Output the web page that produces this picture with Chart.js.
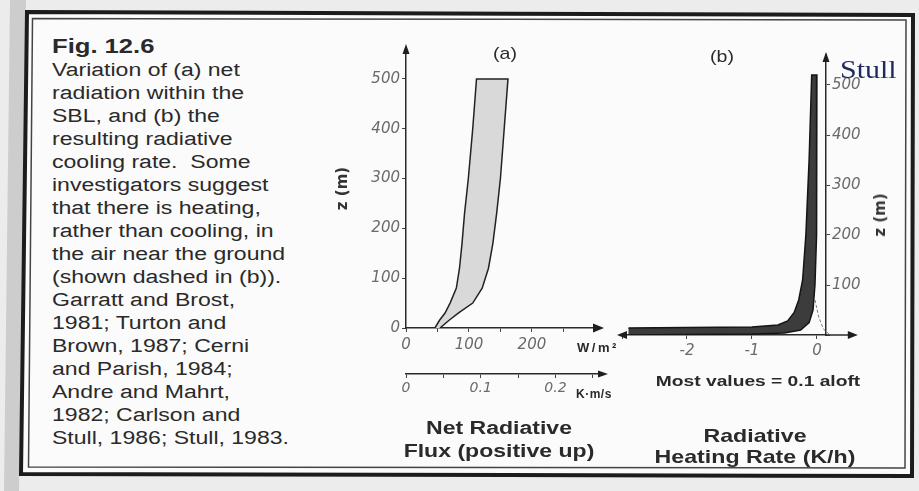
<!DOCTYPE html>
<html>
<head>
<meta charset="utf-8">
<script src="https://cdn.jsdelivr.net/npm/chart.js@4.4.1/dist/chart.umd.min.js"></script>
<style>
  body { margin: 0; width: 919px; height: 491px; background: #ececec; position: relative; overflow: hidden; }
  .t { position: absolute; white-space: nowrap; color: #2a2a2a; font-family: 'Liberation Sans', Arial, sans-serif; }
  canvas { position: absolute; }
</style>
</head>
<body>

<svg width="919" height="491" style="position:absolute;left:0;top:0">
  <polygon points="10,0 26,0 19,491 4,491" fill="#cdcdcd"/>
  <polygon points="27,12 913,15 912,476 21,474" fill="#fbfbfb" stroke="#1c1c1c" stroke-width="4"/>
  <polygon points="32.5,18.5 906,20 905,468 28.5,467" fill="none" stroke="#444" stroke-width="1.5"/>
</svg>

<div class="t" style="left:52px;top:34.5px;font-size:18px;line-height:23px;transform:scaleX(1.28);transform-origin:0 0"><b style="font-size:20px">Fig. 12.6</b><br>Variation of (a) net<br>radiation within the<br>SBL, and (b) the<br>resulting radiative<br>cooling rate.&nbsp; Some<br>investigators suggest<br>that there is heating,<br>rather than cooling, in<br>the air near the ground<br>(shown dashed in (b)).<br>Garratt and Brost,<br>1981; Turton and<br>Brown, 1987; Cerni<br>and Parish, 1984;<br>Andre and Mahrt,<br>1982; Carlson and<br>Stull, 1986; Stull, 1983.</div>

<canvas id="chartA" width="290" height="400" style="left:330px;top:30px"></canvas>
<canvas id="chartB" width="300" height="340" style="left:610px;top:30px"></canvas>

<div class="t" style="left:505px;top:44px;font-size:17px;line-height:19px;transform:translateX(-50%) scaleX(1.15)">(a)</div>
<div class="t" style="left:722px;top:47px;font-size:17px;line-height:19px;transform:translateX(-50%) scaleX(1.15)">(b)</div>
<div class="t" style="left:840px;top:55.6px;font-size:25px;line-height:28px;font-family:'Liberation Serif',serif;color:#1d2a5c;transform:scaleX(1.2);transform-origin:0 0">Stull</div>
<div class="t" style="left:880px;top:215px;font-size:15px;font-weight:bold;font-family:'DejaVu Sans',sans-serif;color:#333;transform:translate(-50%,-50%) rotate(-90deg)">z (m)</div>

<div class="t" style="left:577px;top:340px;font-size:13px;line-height:15px;font-weight:bold;letter-spacing:2.5px">W/m²</div>
<div class="t" style="left:576px;top:387px;font-size:12px;line-height:14px;font-weight:bold;letter-spacing:0.5px">K·m/s</div>
<div class="t" style="left:758px;top:372px;font-size:15px;line-height:17px;font-weight:bold;transform:translateX(-50%) scaleX(1.28)">Most values = 0.1 aloft</div>

<div class="t" style="left:499px;top:417px;font-size:18px;line-height:23px;font-weight:bold;text-align:center;transform:translateX(-50%) scaleX(1.28)">Net Radiative<br>Flux (positive up)</div>
<div class="t" style="left:755px;top:424.7px;font-size:19px;line-height:21.5px;font-weight:bold;text-align:center;transform:translateX(-50%) scaleX(1.22)">Radiative<br>Heating Rate (K/h)</div>

<script>
// (a) net radiative flux band, W/m2 at each height z (m)
var fluxZ     = [0, 15, 30, 50, 80, 120, 170, 230, 300, 400, 500];
var fluxLeft  = [46, 53, 62, 70, 80, 85, 89, 93, 99, 106, 112];
var fluxRight = [54, 68, 83, 106, 121, 131, 138, 144, 150, 156, 162];

// (b) radiative heating rate band (K/h), outer edge bottom->top, inner edge top->bottom
var outerRate = [-2.9, -2.0, -1.0, -0.6, -0.45, -0.35, -0.28, -0.22, -0.17, -0.12, -0.08];
var outerZ    = [14, 15, 16, 20, 28, 45, 70, 110, 200, 350, 520];
var innerRate = [0.0, 0.0, -0.01, -0.03, -0.06, -0.12, -0.25, -0.5, -1.0, -2.0, -2.9];
var innerZ    = [520, 350, 200, 100, 50, 25, 10, 4, 2, 1, 0];

// dashed: possible heating near the ground
var heatRate = [-0.03, 0.03, 0.1, 0.2];
var heatZ    = [70, 35, 12, 0];

// tick labels
var heightTicks = [0, 100, 200, 300, 400, 500];
var fluxTicks = [0, 100, 200];
var kinTicks = [0, 0.1, 0.2];
var rateTicks = [-2, -1, 0];

var tickFont = { family: 'DejaVu Sans', style: 'italic', size: 15 };
var tickColor = '#6a6a6a';
var axisLine = { display: true, color: '#2a2a2a', width: 1.5 };
var tickMarks = { display: true, drawOnChartArea: false, drawTicks: true, tickLength: 4, color: '#444' };

function pts(xs, ys) {
  return xs.map(function(x, i) { return { x: x, y: ys[i] }; });
}

function has(list, v) {
  return list.some(function(t) { return Math.abs(t - v) < 1e-6; });
}

function arrow(ctx, x, y, dir, len, half) {
  ctx.beginPath();
  ctx.moveTo(x, y);
  if (dir === 'up') { ctx.lineTo(x - half, y + len); ctx.lineTo(x + half, y + len); }
  if (dir === 'right') { ctx.lineTo(x - len, y - half); ctx.lineTo(x - len, y + half); }
  if (dir === 'left') { ctx.lineTo(x + len, y - half); ctx.lineTo(x + len, y + half); }
  ctx.closePath();
  ctx.fill();
}

var arrowsA = {
  id: 'arrowsA',
  afterDraw: function(chart) {
    var ctx = chart.ctx, a = chart.chartArea, s = chart.scales;
    var y0 = s.y.getPixelForValue(0), x0 = s.x.getPixelForValue(0);
    ctx.save();
    ctx.fillStyle = '#1e1e1e';
    ctx.strokeStyle = '#2a2a2a';
    ctx.lineWidth = 1.5;
    arrow(ctx, x0, a.top - 5, 'up', 10, 3.5);
    arrow(ctx, a.right + 6, y0, 'right', 11, 4.5);
    ctx.beginPath();
    ctx.moveTo(a.right, s.x2.top);
    ctx.lineTo(a.right + 5, s.x2.top);
    ctx.stroke();
    arrow(ctx, a.right + 10, s.x2.top, 'right', 10, 3.5);
    ctx.restore();
  }
};

var arrowsB = {
  id: 'arrowsB',
  afterDraw: function(chart) {
    var ctx = chart.ctx, a = chart.chartArea, s = chart.scales;
    var y0 = s.y.getPixelForValue(0);
    ctx.save();
    ctx.fillStyle = '#1e1e1e';
    ctx.strokeStyle = '#2a2a2a';
    ctx.lineWidth = 1.5;
    arrow(ctx, a.right, a.top - 3, 'up', 10, 3.5);
    arrow(ctx, a.left - 5, y0, 'left', 10, 4);
    ctx.beginPath();
    ctx.moveTo(a.right, y0);
    ctx.lineTo(s.x.getPixelForValue(0.55), y0);
    ctx.stroke();
    arrow(ctx, s.x.getPixelForValue(0.63), y0, 'right', 10, 4);
    ctx.restore();
  }
};

// panel (a)
new Chart(document.getElementById('chartA'), {
  type: 'scatter',
  data: {
    datasets: [{
      data: pts(fluxLeft, fluxZ).concat(pts(fluxRight, fluxZ).reverse()),
      showLine: true,
      fill: 'shape',
      backgroundColor: '#d9d9d9',
      borderColor: '#222',
      borderWidth: 1.5,
      pointRadius: 0,
      tension: 0
    }]
  },
  options: {
    responsive: false,
    animation: false,
    devicePixelRatio: 1,
    layout: { padding: { top: 19, right: 22, bottom: 26, left: 0 } },
    plugins: { legend: { display: false }, tooltip: { enabled: false } },
    scales: {
      x: {
        type: 'linear', position: 'bottom', weight: 0,
        min: 0, max: 305,
        afterFit: function(scale) { scale.height = 46; },
        border: axisLine,
        grid: tickMarks,
        ticks: {
          stepSize: 50, includeBounds: false, maxRotation: 0, autoSkip: false,
          font: tickFont, color: tickColor, padding: 4,
          callback: function(v) { return has(fluxTicks, v) ? String(v) : ''; }
        }
      },
      x2: {
        type: 'linear', axis: 'x', position: 'bottom', weight: 1,
        min: 0, max: 0.257,
        afterFit: function(scale) { scale.height = 30; },
        border: axisLine,
        grid: tickMarks,
        ticks: {
          stepSize: 0.05, includeBounds: false, maxRotation: 0, autoSkip: false,
          font: { family: 'DejaVu Sans', style: 'italic', size: 14 }, color: tickColor, padding: 2,
          callback: function(v) { return has(kinTicks, v) ? (v === 0 ? '0' : v.toFixed(1)) : ''; }
        }
      },
      y: {
        type: 'linear', position: 'left',
        min: 0, max: 560,
        afterFit: function(scale) { scale.width = 76; },
        border: axisLine,
        grid: tickMarks,
        title: {
          display: true, text: 'z (m)', color: '#333',
          font: { family: 'DejaVu Sans', weight: 'bold', size: 15 },
          padding: { top: 4, bottom: 0 }
        },
        ticks: {
          stepSize: 100, includeBounds: false, autoSkip: false,
          font: tickFont, color: tickColor, padding: 2,
          callback: function(v) { return has(heightTicks, v) ? String(v) : ''; }
        }
      }
    }
  },
  plugins: [arrowsA]
});

// panel (b)
new Chart(document.getElementById('chartB'), {
  type: 'scatter',
  data: {
    datasets: [{
      data: pts(outerRate, outerZ).concat(pts(innerRate, innerZ)),
      showLine: true,
      fill: 'shape',
      backgroundColor: '#3c3c3c',
      borderColor: '#151515',
      borderWidth: 1.5,
      pointRadius: 0,
      tension: 0
    }, {
      data: pts(heatRate, heatZ),
      showLine: true,
      fill: false,
      clip: false,
      borderColor: '#777',
      borderWidth: 1,
      borderDash: [3, 2],
      pointRadius: 0
    }]
  },
  options: {
    responsive: false,
    animation: false,
    devicePixelRatio: 1,
    layout: { padding: { top: 25, right: 40, bottom: 10, left: 12 } },
    plugins: { legend: { display: false }, tooltip: { enabled: false } },
    scales: {
      x: {
        type: 'linear', position: 'bottom',
        min: -3, max: 0.14,
        afterFit: function(scale) { scale.height = 25; },
        border: axisLine,
        grid: tickMarks,
        ticks: {
          stepSize: 1, includeBounds: false, maxRotation: 0, autoSkip: false,
          font: tickFont, color: tickColor, padding: 3,
          callback: function(v) { return has(rateTicks, v) ? String(v) : ''; }
        }
      },
      y: {
        type: 'linear', position: 'right',
        min: 0, max: 560,
        afterFit: function(scale) { scale.width = 44; },
        border: axisLine,
        grid: tickMarks,
        ticks: {
          stepSize: 100, includeBounds: false, autoSkip: false,
          font: tickFont, color: tickColor, padding: 2,
          callback: function(v) { return (v !== 0 && has(heightTicks, v)) ? String(v) : ''; }
        }
      }
    }
  },
  plugins: [arrowsB]
});
</script>
</body>
</html>
